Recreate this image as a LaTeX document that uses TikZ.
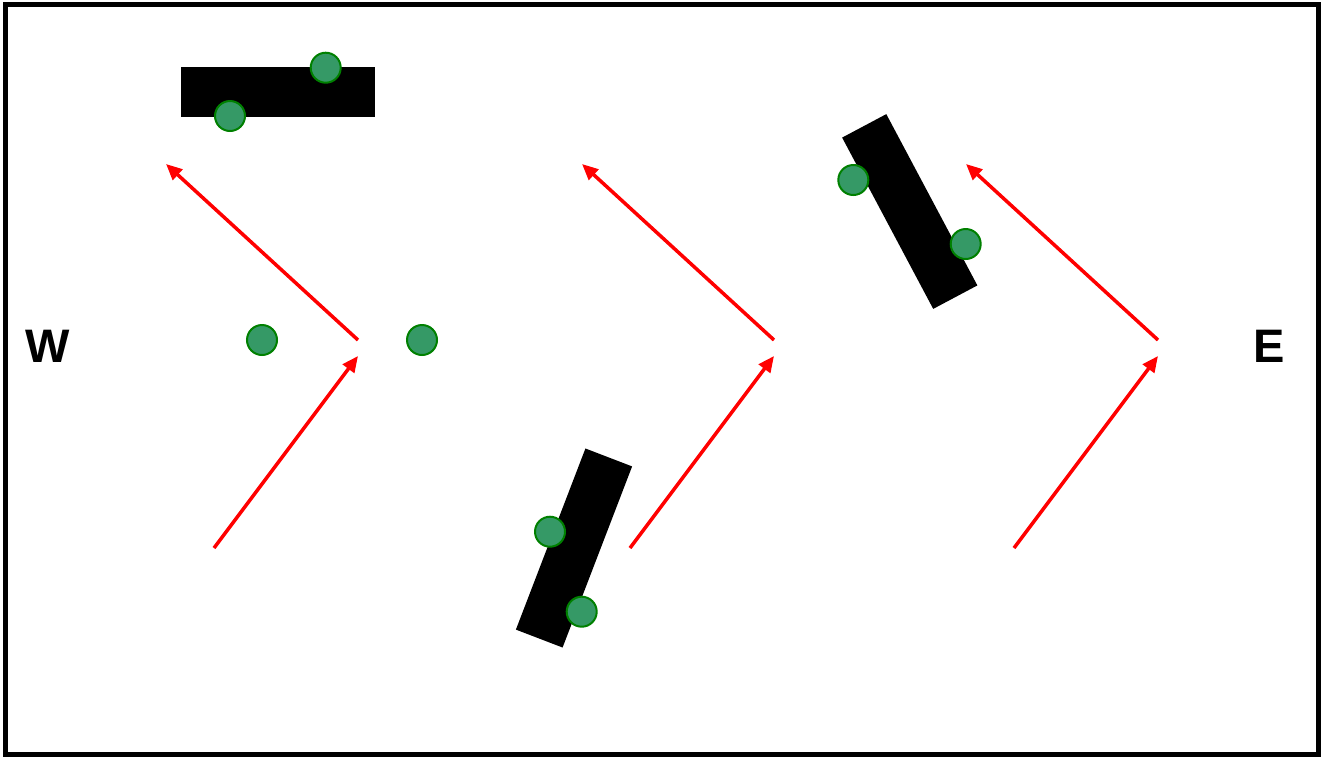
\documentclass[tikz,border=0pt]{standalone}
\usepackage{fontspec}
\setmainfont{Liberation Sans}
\usetikzlibrary{arrows.meta}
\definecolor{pinfill}{RGB}{53,153,102}
\definecolor{pinline}{RGB}{0,128,0}
\begin{document}
\begin{tikzpicture}[x=1pt,y=-1pt,>={Triangle[length=16pt,width=14pt]},
  bar/.style={fill=black,minimum width=194pt,minimum height=50pt,inner sep=0pt},
  pin/.style={circle,fill=pinfill,draw=pinline,line width=2pt,minimum size=30pt,inner sep=0pt},
  ray/.style={red,line width=3.5pt,->},
  side/.style={font=\bfseries\fontsize{47}{56}\selectfont}]
 \useasboundingbox (0,0) rectangle (1327,756);
 \draw[line width=5pt] (5.5,4.5) rectangle (1318,754);
 \node[side] (west) at (48,346) {W};
 \node[side] (east) at (1269.5,346) {E};
 \node[bar] (bar1) at (278,92) {};
 \node[bar,rotate=-62] (bar2) at (909.75,211.5) {};
 \node[bar,rotate=69] (bar3) at (574,548) {};
 \node[pin] (p1) at (325.7,67.7) {};
 \node[pin] (p2) at (230,116) {};
 \node[pin] (p3) at (262,340) {};
 \node[pin] (p4) at (422,340) {};
 \node[pin] (p5) at (853.3,180) {};
 \node[pin] (p6) at (965.7,244) {};
 \node[pin] (p7) at (550,531.7) {};
 \node[pin] (p8) at (581.7,611.7) {};
 \foreach \dx [count=\i] in {0,416,800} {
  \coordinate (us\i) at (358+\dx,340);
  \coordinate (ue\i) at (166+\dx,164);
  \coordinate (ls\i) at (214+\dx,548);
  \coordinate (le\i) at (358+\dx,356);
  \draw[ray] (us\i) -- (ue\i);
  \draw[ray] (ls\i) -- (le\i);
 }
\end{tikzpicture}
\end{document}
